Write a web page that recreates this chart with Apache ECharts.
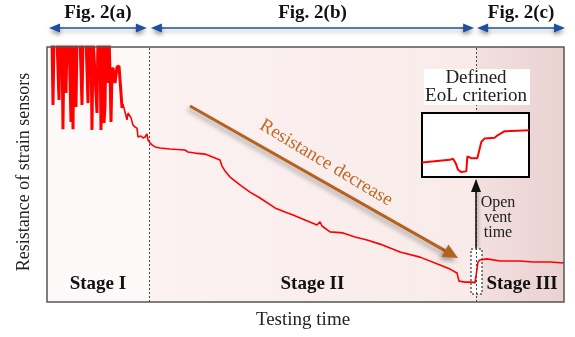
<!DOCTYPE html>
<html><head><meta charset="utf-8">
<script src="https://cdn.jsdelivr.net/npm/echarts@6/dist/echarts.min.js"></script>
<style>html,body{margin:0;padding:0;background:#fff}#c{width:575px;height:337px}</style>
</head><body><div id="c"></div>
<script>
// Main resistance trace (arbitrary units: time 0-100, resistance 0-100; values >100 are off-scale spikes)
const timeValues = [0.97,1.16,1.35,1.93,2.32,2.51,2.90,3.09,3.29,3.48,3.68,3.87,4.26,4.64,4.84,5.03,5.22,5.42,5.61,5.80,6.38,6.77,6.96,7.54,7.93,8.12,8.51,8.70,8.90,9.28,9.67,9.86,10.25,10.44,10.64,10.83,11.03,11.22,11.41,11.61,11.80,11.99,12.19,12.38,12.57,12.77,13.15,13.54,13.93,14.12,14.31,14.51,14.70,15.09,15.47,15.67,16.25,16.63,17.02,17.41,17.60,18.18,18.57,18.96,19.34,19.54,19.92,20.31,20.89,21.86,23.79,26.69,27.27,28.63,30.56,32.50,33.46,33.85,34.43,35.40,37.33,39.26,41.20,44.10,46.03,47.58,49.90,52.22,52.80,53.19,54.74,57.25,59.57,61.90,64.41,68.28,72.15,76.02,77.95,79.30,79.69,80.85,82.21,82.79,83.17,83.37,83.75,85.11,87.62,91.49,94.00,97.29,100];
const resistanceValues = [104,77.3,104,104,79.2,104,104,67.8,104,104,82.0,104,104,70.6,104,67.8,104,104,76.5,104,104,77.3,104,104,78.0,104,104,67.5,104,104,74.1,104,104,67.5,67.5,104,70.2,76.5,104,104,85.9,104,90.2,70.6,91.0,91.8,85.9,92.2,92.5,92.9,82.0,76.1,77.6,74.5,71.4,74.1,72.2,69.4,68.6,68.2,64.7,65.1,64.3,64.7,65.9,63.5,62.4,61.6,60.8,60.4,60.0,59.6,58.8,58.4,58.0,56.5,55.7,53.3,51.4,49.0,45.9,43.1,40.8,36.9,35.3,34.1,32.2,30.2,31.4,29.8,27.5,27.1,25.5,24.3,22.7,19.6,17.6,14.5,12.9,11.4,8.2,7.8,7.8,7.5,7.1,15.7,16.5,16.9,16.1,16.1,15.7,15.7,15.3];
// Stage boundaries (time units)
const stageBounds = [0, 19.7, 83.0, 100];
const stageNames = ['Stage I', 'Stage II', 'Stage III'];
const figLabels = ['Fig. 2(a)', 'Fig. 2(b)', 'Fig. 2(c)'];
// Inset: zoom of EoL criterion
const insetTime = [0,25.9,29.0,31.5,33.6,36.8,41.4,42.4,43.6,46.1,51.7,53.0,55.5,58.6,67.9,71.0,77.3,100];
const insetResistance = [22.7,26.8,28.4,21.6,11.3,7.7,8.8,32.0,32.0,29.4,29.4,32.0,55.2,60.3,61.3,65.5,71.6,73.2];
const xTitle = 'Testing time';
const yTitle = 'Resistance of strain sensors';

const FONT = '"Liberation Serif","Times New Roman",serif';
const chart = echarts.init(document.getElementById('c'), null, {renderer: 'canvas'});
const mainData = timeValues.map((t, i) => [t, resistanceValues[i]]);
const noisyData = mainData.filter(d => d[0] <= 14.6);
const insetData = insetTime.map((t, i) => [t, insetResistance[i]]);

chart.setOption({
  animation: false,
  grid: [
    {left: 47, top: 47, width: 517, height: 255, show: false},
    {left: 422, top: 113, width: 107, height: 64, show: true, backgroundColor: '#fff', borderColor: '#000', borderWidth: 2, z: 6}
  ],
  xAxis: [
    {type: 'value', gridIndex: 0, min: 0, max: 100, show: false},
    {type: 'value', gridIndex: 1, min: 0, max: 100, show: false}
  ],
  yAxis: [
    {type: 'value', gridIndex: 0, min: 0, max: 100, show: false},
    {type: 'value', gridIndex: 1, min: 0, max: 100, show: false}
  ],
  series: [
    {
      type: 'line', xAxisIndex: 0, yAxisIndex: 0, z: 1, silent: true,
      data: [[0, -50]], symbol: 'none', lineStyle: {width: 0},
      markArea: {
        silent: true,
        data: [
          [{xAxis: stageBounds[0], itemStyle: {color: '#fdf9f8'}}, {xAxis: stageBounds[1]}],
          [{xAxis: stageBounds[1], itemStyle: {color: {type: 'linear', x: 0, y: 0, x2: 1, y2: 0, colorStops: [{offset: 0, color: '#fbf2f1'}, {offset: 1, color: '#f8ebea'}]}}}, {xAxis: stageBounds[2]}],
          [{xAxis: stageBounds[2], itemStyle: {color: {type: 'linear', x: 0, y: 0, x2: 1, y2: 0, colorStops: [{offset: 0, color: '#f2e0df'}, {offset: 1, color: '#ead2d1'}]}}}, {xAxis: stageBounds[3]}]
        ]
      },
      markLine: {
        silent: true, symbol: ['none', 'none'], label: {show: false},
        lineStyle: {type: [2, 2], color: '#444', width: 1},
        data: [{xAxis: stageBounds[1]}, {xAxis: stageBounds[2]}]
      }
    },
    {
      type: 'line', xAxisIndex: 0, yAxisIndex: 0, z: 10, data: mainData, symbol: 'none', clip: true,
      lineStyle: {color: '#ff0000', width: 1.6}
    },
    {
      type: 'line', xAxisIndex: 0, yAxisIndex: 0, z: 10, data: noisyData, symbol: 'none', clip: true,
      lineStyle: {color: '#ff0000', width: 3}
    },
    {
      type: 'line', xAxisIndex: 1, yAxisIndex: 1, z: 12, data: insetData, symbol: 'none',
      lineStyle: {color: '#ff0000', width: 2}
    }
  ]
});

function px(t, r) { return chart.convertToPixel({gridIndex: 0}, [t, r]); }
const g = [];
const BLUE = '#1f4fa0';
const arrowShadow = {shadowBlur: 4, shadowOffsetY: 3, shadowColor: 'rgba(0,0,0,0.35)'};
for (let i = 0; i < 3; i++) {
  const a = px(stageBounds[i], 0)[0] + (i === 2 ? 1 : 2);
  const b = px(stageBounds[i + 1], 0)[0] + (i === 2 ? 1 : -2);
  const y = 28;
  g.push({type: 'line', z: 20, shape: {x1: a + 6, y1: y, x2: b - 6, y2: y}, style: Object.assign({stroke: BLUE, lineWidth: 1.5}, arrowShadow)});
  g.push({type: 'polygon', z: 20, shape: {points: [[a, y], [a + 11, y - 4.5], [a + 11, y + 4.5]]}, style: Object.assign({fill: BLUE}, arrowShadow)});
  g.push({type: 'polygon', z: 20, shape: {points: [[b, y], [b - 11, y - 4.5], [b - 11, y + 4.5]]}, style: Object.assign({fill: BLUE}, arrowShadow)});
  g.push({type: 'text', z: 20, style: {text: figLabels[i], x: (a + b) / 2, y: 13, font: 'bold 19px ' + FONT, fill: '#111', textAlign: 'center', textVerticalAlign: 'middle'}});
  const mid = (px(stageBounds[i], 0)[0] + px(stageBounds[i + 1], 0)[0]) / 2;
  g.push({type: 'text', z: 20, style: {text: stageNames[i], x: mid + (i === 2 ? 2 : 0), y: 284, font: 'bold 19px ' + FONT, fill: '#111', textAlign: 'center', textVerticalAlign: 'middle'}});
}
// frame
g.push({type: 'rect', z: 25, shape: {x: 47, y: 47, width: 517, height: 255}, style: {fill: 'none', stroke: '#555', lineWidth: 1.5}});
// axis titles
g.push({type: 'text', z: 20, style: {text: xTitle, x: 303, y: 320, font: '19px ' + FONT, fill: '#222', textAlign: 'center', textVerticalAlign: 'middle'}});
g.push({type: 'text', z: 20, x: 24, y: 172, rotation: Math.PI / 2, style: {text: yTitle, x: 0, y: 0, font: '18px ' + FONT, fill: '#222', textAlign: 'center', textVerticalAlign: 'middle'}});
// brown arrow
const BROWN = '#b5621f';
const brownShadow = {shadowBlur: 5, shadowOffsetX: -2, shadowOffsetY: 3, shadowColor: 'rgba(0,0,0,0.35)'};
const ax1 = 190, ay1 = 106, ax2 = 458, ay2 = 258;
const ang = Math.atan2(ay2 - ay1, ax2 - ax1);
const hl = 15, hw = 7;
const bx = ax2 - hl * Math.cos(ang), by = ay2 - hl * Math.sin(ang);
g.push({type: 'line', z: 20, shape: {x1: ax1, y1: ay1, x2: bx + 2 * Math.cos(ang), y2: by + 2 * Math.sin(ang)}, style: Object.assign({stroke: BROWN, lineWidth: 3}, brownShadow)});
g.push({type: 'polygon', z: 20, shape: {points: [[ax2, ay2], [bx - hw * Math.sin(ang), by + hw * Math.cos(ang)], [bx + hw * Math.sin(ang), by - hw * Math.cos(ang)]]}, style: Object.assign({fill: BROWN}, brownShadow)});
g.push({type: 'text', z: 20, x: 326, y: 163, rotation: -0.54, style: {text: 'Resistance decrease', x: 0, y: 0, font: '19px ' + FONT, fill: '#c06a28', textAlign: 'center', textVerticalAlign: 'middle'}});
// inset title
g.push({type: 'rect', z: 6, shape: {x: 424, y: 69, width: 106, height: 36}, style: {fill: '#fff'}});
g.push({type: 'text', z: 20, style: {text: 'Defined\nEoL criterion', x: 476, y: 87, font: '19px ' + FONT, fill: '#222', textAlign: 'center', textVerticalAlign: 'middle', lineHeight: 18}});
// open vent marker
g.push({type: 'rect', z: 3, shape: {x: 471, y: 249, width: 11, height: 45}, style: {fill: '#fff', stroke: '#111', lineWidth: 1, lineDash: [2, 2]}});
g.push({type: 'line', z: 20, shape: {x1: 476, y1: 248, x2: 476, y2: 190}, style: {stroke: '#111', lineWidth: 1.5, shadowBlur: 3, shadowOffsetX: 2, shadowColor: 'rgba(0,0,0,0.3)'}});
g.push({type: 'polygon', z: 20, shape: {points: [[476, 179], [471, 192], [481, 192]]}, style: {fill: '#111'}});
g.push({type: 'text', z: 20, style: {text: 'Open\nvent\ntime', x: 498, y: 218, font: '16px ' + FONT, fill: '#222', textAlign: 'center', textVerticalAlign: 'middle', lineHeight: 15}});
chart.setOption({graphic: {elements: g}});
</script>
</body></html>
